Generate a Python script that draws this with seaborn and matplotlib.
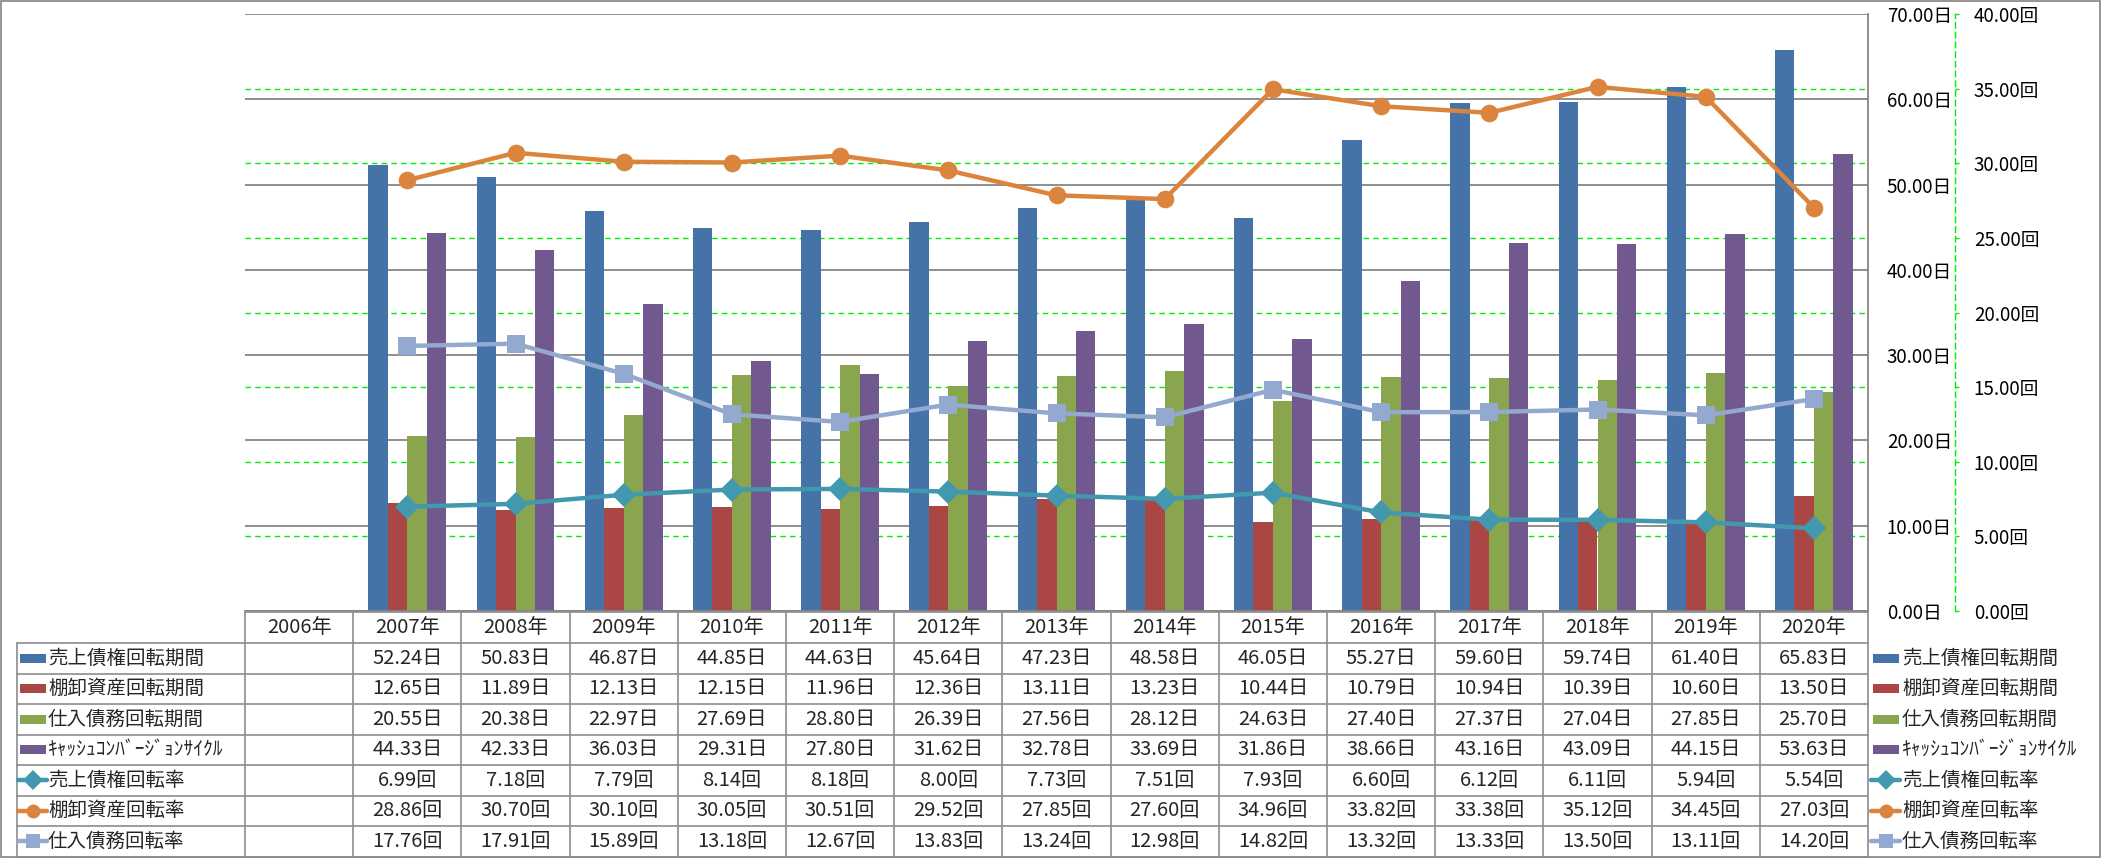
import numpy as np
import pandas as pd
import matplotlib
matplotlib.use("Agg")
import matplotlib.pyplot as plt
import seaborn as sns
from matplotlib import transforms
from matplotlib.patches import Rectangle
from matplotlib.lines import Line2D

# ---------------- data ----------------
years = [f"{y}年" for y in range(2006, 2021)]

bar_names = ["売上債権回転期間", "棚卸資産回転期間", "仕入債務回転期間", "ｷｬｯｼｭｺﾝﾊﾞｰｼﾞｮﾝｻｲｸﾙ"]
line_names = ["売上債権回転率", "棚卸資産回転率", "仕入債務回転率"]

ar_days = [np.nan, 52.24, 50.83, 46.87, 44.85, 44.63, 45.64, 47.23, 48.58, 46.05, 55.27, 59.60, 59.74, 61.40, 65.83]
inv_days = [np.nan, 12.65, 11.89, 12.13, 12.15, 11.96, 12.36, 13.11, 13.23, 10.44, 10.79, 10.94, 10.39, 10.60, 13.50]
ap_days = [np.nan, 20.55, 20.38, 22.97, 27.69, 28.80, 26.39, 27.56, 28.12, 24.63, 27.40, 27.37, 27.04, 27.85, 25.70]
ccc_days = [np.nan, 44.33, 42.33, 36.03, 29.31, 27.80, 31.62, 32.78, 33.69, 31.86, 38.66, 43.16, 43.09, 44.15, 53.63]

ar_turn = [np.nan, 6.99, 7.18, 7.79, 8.14, 8.18, 8.00, 7.73, 7.51, 7.93, 6.60, 6.12, 6.11, 5.94, 5.54]
inv_turn = [np.nan, 28.86, 30.70, 30.10, 30.05, 30.51, 29.52, 27.85, 27.60, 34.96, 33.82, 33.38, 35.12, 34.45, 27.03]
ap_turn = [np.nan, 17.76, 17.91, 15.89, 13.18, 12.67, 13.83, 13.24, 12.98, 14.82, 13.32, 13.33, 13.50, 13.11, 14.20]

left_ticks = [0, 10, 20, 30, 40, 50, 60, 70]
right_ticks = [0, 5, 10, 15, 20, 25, 30, 35, 40]

bar_colors = ["#4572A7", "#AA4643", "#89A54E", "#71588F"]
line_colors = ["#4198AF", "#DB843D", "#93A9CF"]
line_markers = ["D", "o", "s"]

bar_series = [ar_days, inv_days, ap_days, ccc_days]
line_series = [ar_turn, inv_turn, ap_turn]

# ---------------- figure ----------------
sns.set_theme(style="white")
plt.rcParams["font.family"] = ["Noto Sans CJK JP", "DejaVu Sans"]

W, H = 2101, 858
fig = plt.figure(figsize=(W / 100, H / 100), dpi=100)
L, R, T, B = 245, 1868, 14, 611
ax = fig.add_axes([L / W, 1 - B / H, (R - L) / W, (B - T) / H])

df_bar = pd.DataFrame({
    "year": years * len(bar_names),
    "series": sum([[n] * len(years) for n in bar_names], []),
    "value": np.concatenate([np.array(s, dtype=float) for s in bar_series]),
}).dropna()

sns.barplot(data=df_bar, x="year", y="value", hue="series", order=years,
            hue_order=bar_names, palette=bar_colors, width=0.72, saturation=1,
            errorbar=None, legend=False, linewidth=0, ax=ax)

ax2 = ax.twinx()
for name, vals, color, marker in zip(line_names, line_series, line_colors, line_markers):
    d = pd.DataFrame({"year": years, "value": vals}).dropna()
    sns.pointplot(data=d, x="year", y="value", order=years, color=color,
                  marker=marker, markersize=12.7, linewidth=3.2,
                  markeredgewidth=0, errorbar=None, ax=ax2)

# primary axis (days)
ax.set_xlim(-0.5, len(years) - 0.5)
ax.set_ylim(0, 70)
ax.set_yticks(left_ticks)
ax.set_yticklabels([f"{v:.2f}日" for v in left_ticks])
ax.set_yticks([v * 70 / 40 for v in right_ticks[1:]], minor=True)
ax.yaxis.tick_right()
ax.tick_params(axis="y", which="both", left=False, labelleft=False, right=True,
               labelright=True, length=0, pad=13.5, labelsize=13.5, colors="black")
ax.tick_params(axis="x", length=0, labelbottom=False)
ax.grid(axis="y", which="major", color="#868686", lw=1.3)
ax.grid(axis="y", which="minor", color="#00EE00", lw=1.0, ls=(0, (4, 3)))
ax.grid(axis="x", visible=False)
ax.set_axisbelow(True)
ax.set_xlabel("")
ax.set_ylabel("")
for s in ["left", "top"]:
    ax.spines[s].set_visible(False)
for s in ["right", "bottom"]:
    ax.spines[s].set_color("#868686")
    ax.spines[s].set_linewidth(1.3)

# secondary axis (times)
ax2.set_xlim(-0.5, len(years) - 0.5)
ax2.set_ylim(0, 40)
ax2.set_yticks(right_ticks)
ax2.set_yticklabels([f"{v:.2f}回" for v in right_ticks])
ax2.spines["right"].set_position(("axes", 1 + (1955 - R) / (R - L)))
ax2.spines["right"].set_color("#00EE00")
ax2.spines["right"].set_linestyle((0, (4, 3)))
ax2.spines["right"].set_linewidth(1.0)
for s in ["left", "top", "bottom"]:
    ax2.spines[s].set_visible(False)
ax2.tick_params(axis="y", length=3, width=1, color="#00EE00", pad=10.5,
                labelsize=13.5, labelcolor="black")
ax2.tick_params(axis="x", length=0, labelbottom=False)
ax2.set_xlabel("")
ax2.set_ylabel("")
ax2.grid(False)

# ---------------- data table ----------------
ov = fig.add_axes([0, 0, 1, 1], facecolor="none")
ov.set_xlim(0, W)
ov.set_ylim(H, 0)
ov.axis("off")
bt = transforms.blended_transform_factory(ax.transData, ov.transData)

gc = "#8C8C8C"
hdr_top, hdr_bot = 612, 643
row_h = 30.5
n_rows = 7
tbl_bot = hdr_bot + row_h * n_rows
n = len(years)
vfs = 14.5

ov.add_line(Line2D([-0.5, n - 0.5], [hdr_top, hdr_top], transform=bt, color=gc, lw=1.2))
for k in range(n_rows + 1):
    yk = hdr_bot + row_h * k
    ov.add_line(Line2D([17, R], [yk, yk], color=gc, lw=1.2))
for i in range(n + 1):
    ov.add_line(Line2D([i - 0.5, i - 0.5], [hdr_top, tbl_bot], transform=bt, color=gc, lw=1.2))
ov.add_line(Line2D([17, 17], [hdr_bot, tbl_bot], color=gc, lw=1.2))

for i, y in enumerate(years):
    ov.text(i, (hdr_top + hdr_bot) / 2, y, transform=bt, ha="center", va="center", fontsize=vfs)

all_series = bar_series + line_series
all_names = bar_names + line_names
units = ["日"] * 4 + ["回"] * 3
for r, (vals, unit) in enumerate(zip(all_series, units)):
    yc = hdr_bot + row_h * (r + 0.5)
    for i, v in enumerate(vals):
        if not np.isnan(v):
            ov.text(i, yc, f"{v:.2f}{unit}", transform=bt, ha="center", va="center", fontsize=vfs)


def draw_key(x0, yc, r, w=27):
    if r < 4:
        ov.add_patch(Rectangle((x0 + 2, yc - 4.5), w - 1, 9, color=bar_colors[r], lw=0))
    else:
        c = line_colors[r - 4]
        ov.add_line(Line2D([x0, x0 + w + 2], [yc, yc], color=c, lw=3.2))
        ov.add_line(Line2D([x0 + (w + 2) / 2], [yc], color=c, marker=line_markers[r - 4],
                           markersize=10, markeredgewidth=0, lw=0))


for r, name in enumerate(all_names):
    yc = hdr_bot + row_h * (r + 0.5)
    draw_key(18, yc, r)
    ov.text(48, yc, name, ha="left", va="center", fontsize=14)
    draw_key(1871, yc, r)
    ov.text(1902, yc, name, ha="left", va="center", fontsize=14)

ov.add_patch(Rectangle((1, 1), W - 2.5, H - 2.5, fill=False, ec="#8C8C8C", lw=1.3, clip_on=False))

fig.savefig("out.png", dpi=100)
